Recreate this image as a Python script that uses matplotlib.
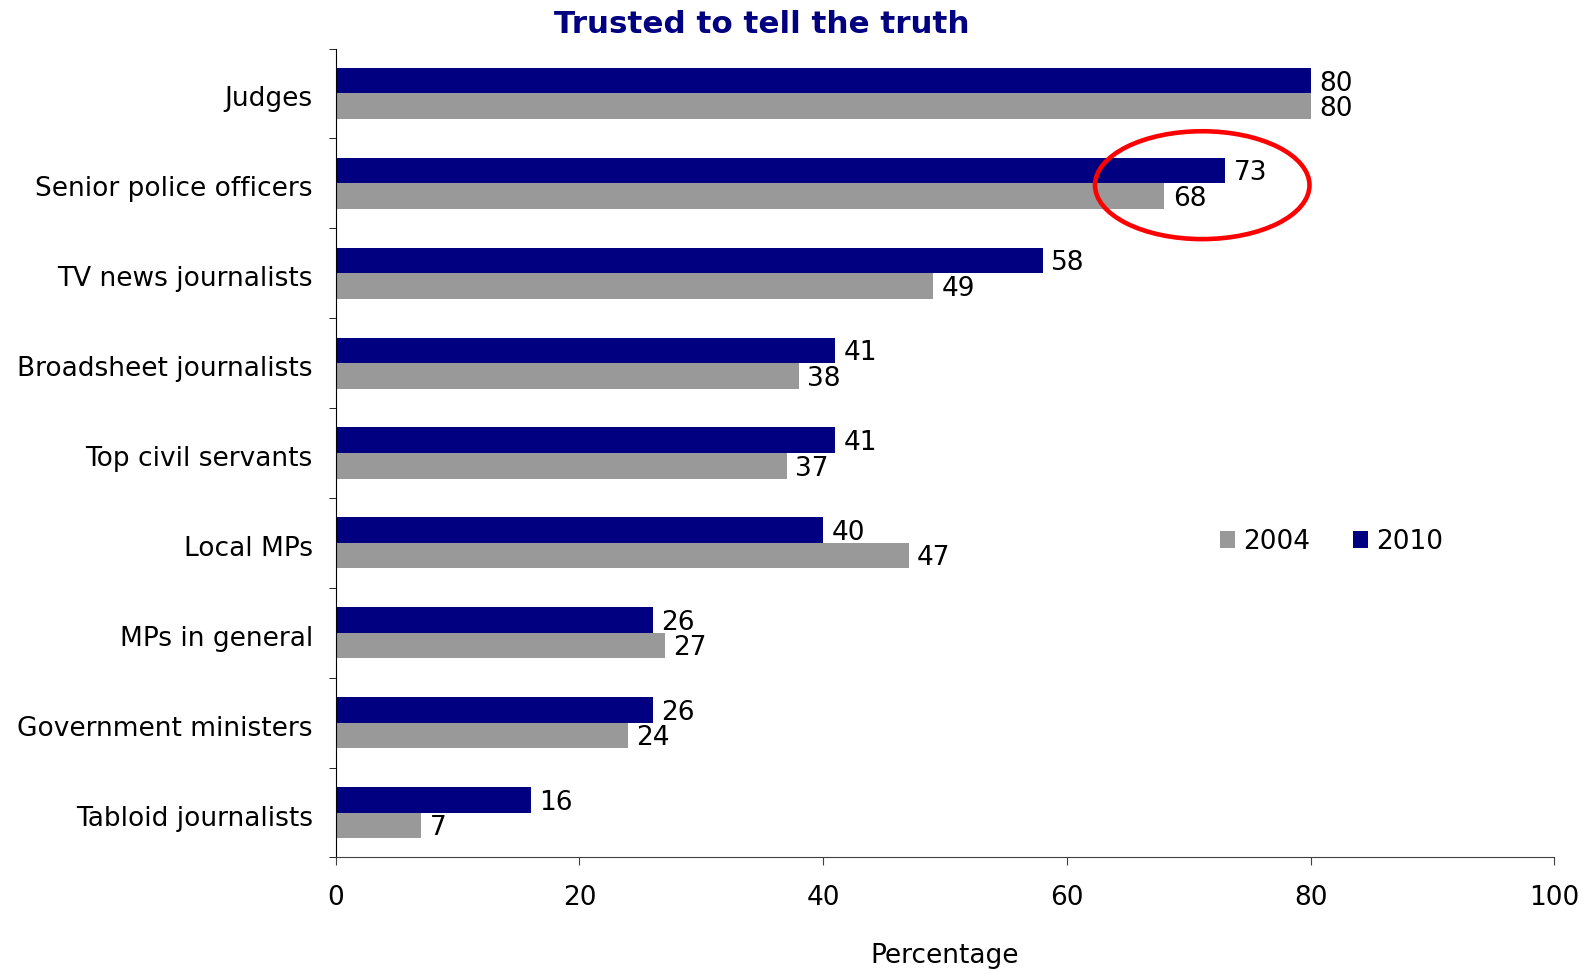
import numpy as np
import matplotlib.pyplot as plt
import matplotlib.transforms as mtransforms
from matplotlib.patches import Ellipse

# Data
categories = ['Judges', 'Senior police officers', 'TV news journalists',
              'Broadsheet journalists', 'Top civil servants', 'Local MPs',
              'MPs in general', 'Government ministers', 'Tabloid journalists']
values_2010 = [80, 73, 58, 41, 41, 40, 26, 26, 16]
values_2004 = [80, 68, 49, 38, 37, 47, 27, 24, 7]

navy = '#000080'
grey = '#999999'

fig = plt.figure(figsize=(15.86, 9.71), dpi=100)
ax = fig.add_axes([0.2117, 0.1169, 0.9801 - 0.2117, 0.950 - 0.1169])

y = np.arange(len(categories))
h = 0.284

bars10 = ax.barh(y - h / 2, values_2010, height=h, color=navy, label='2010')
bars04 = ax.barh(y + h / 2, values_2004, height=h, color=grey, label='2004')

# value labels
for bars in (bars10, bars04):
    for b in bars:
        ax.annotate(f'{b.get_width():.0f}', (b.get_width(), b.get_y() + b.get_height() / 2),
                    xytext=(6, -2), textcoords='offset points',
                    va='center', ha='left', fontsize=19)

ax.set_xlim(0, 100)
ax.set_ylim(len(categories) - 0.5, -0.5)
ax.set_xticks(np.arange(0, 101, 20))
ax.set_yticks(y)
ax.set_yticklabels(categories)
ax.set_yticks(np.arange(-0.5, len(categories)), minor=True)
ax.tick_params(axis='y', which='major', length=0, pad=16.5, labelsize=19)
ax.tick_params(axis='y', which='minor', length=5, direction='out', color='black')
ax.tick_params(axis='x', length=6, direction='out', color='#404040', pad=14, labelsize=19)

# nudge category labels down a little
shift = mtransforms.ScaledTranslation(0, -0.03, fig.dpi_scale_trans)
for t in ax.get_yticklabels():
    t.set_transform(t.get_transform() + shift)

for s in ('top', 'right'):
    ax.spines[s].set_visible(False)
ax.spines['left'].set_color('black')
ax.spines['bottom'].set_color('#404040')

ax.set_xlabel('Percentage', fontsize=19, labelpad=23)

fig.text(0.4805, 0.975, 'Trusted to tell the truth', ha='center', va='center',
         fontsize=22.3, fontweight='bold', color=navy)

# legend: 2004 first, then 2010
handles, labels = ax.get_legend_handles_labels()
fig.legend([handles[1], handles[0]], [labels[1], labels[0]],
           loc='center left', bbox_to_anchor=(0.754, 0.442), ncol=2, frameon=False,
           fontsize=19, handlelength=0.6, handleheight=0.6, handletextpad=0.3,
           columnspacing=1.6)

# highlight circle around senior police officers
ell = Ellipse((71.1, 1.02), 17.6, 1.2, fill=False, edgecolor='red', linewidth=3.3,
              clip_on=False)
ax.add_patch(ell)

fig.savefig('out.png', dpi=100)
